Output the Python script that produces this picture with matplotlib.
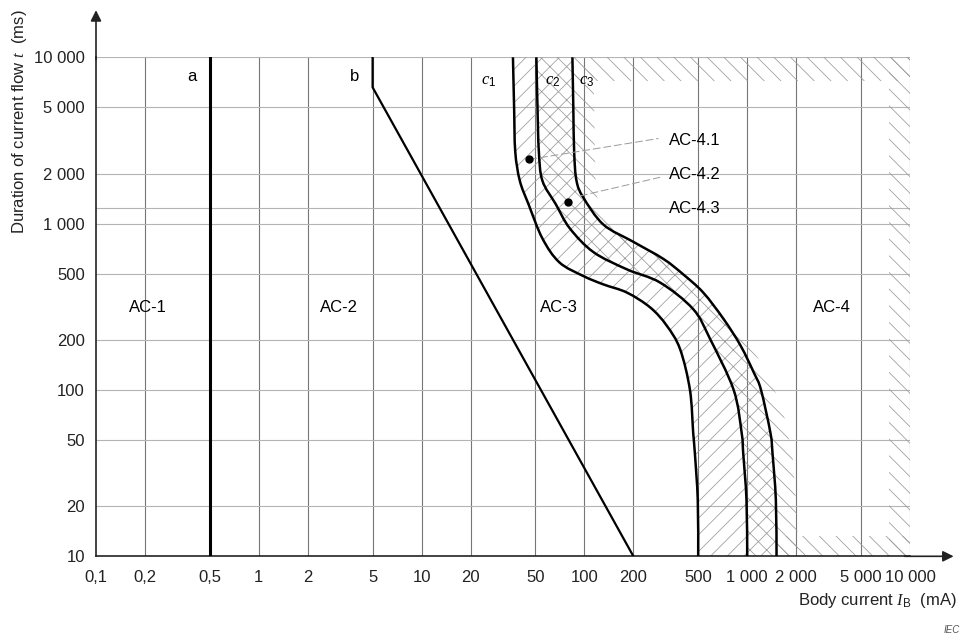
import numpy as np
import matplotlib.pyplot as plt
from matplotlib.path import Path
from matplotlib.patches import PathPatch

plt.rcParams['font.family'] = ['Liberation Sans', 'DejaVu Sans']
plt.rcParams['mathtext.fontset'] = 'custom'
plt.rcParams['mathtext.rm'] = 'Liberation Sans'
plt.rcParams['mathtext.it'] = 'Liberation Serif:italic'
plt.rcParams['hatch.linewidth'] = 0.55

# axis ticks
x_ticks = [0.1, 0.2, 0.5, 1, 2, 5, 10, 20, 50, 100, 200, 500, 1000, 2000, 5000, 10000]
x_labels = ['0,1', '0,2', '0,5', '1', '2', '5', '10', '20', '50', '100', '200',
            '500', '1 000', '2 000', '5 000', '10 000']
y_ticks = [10, 20, 50, 100, 200, 500, 1000, 2000, 5000, 10000]
y_labels = ['10', '20', '50', '100', '200', '500', '1 000', '2 000', '5 000', '10 000']
extra_y = 1250

# boundary curves (current mA, time ms)
a_current = [0.5, 0.5]
a_time = [10, 10000]
b_current = [200, 5, 5]
b_time = [10, 6600, 10000]

c1_current = [36.4, 37, 37.6, 40.1, 45.4, 55.2, 70.2, 98.6, 131, 182.5, 254, 320, 387, 445, 466, 477, 497, 500]
c1_time = [10000, 5000, 2718, 1813, 1306, 815, 585, 484, 431, 385, 313, 244, 176, 100, 55, 41.7, 21.8, 10]

c2_current = [50.7, 51.5, 52.5, 55.2, 66.8, 81.2, 113.7, 182.5, 292, 466, 591, 826, 925, 945, 990, 1000]
c2_time = [10000, 5000, 2718, 1813, 1306, 939, 674, 531, 442, 306, 203, 100, 55, 41.7, 21.8, 10]

c3_current = [84.4, 85.5, 86.5, 89.4, 98.6, 131, 200, 306, 405, 537, 716, 910, 1103, 1216, 1390, 1430, 1500, 1514]
c3_time = [10000, 5000, 2718, 1813, 1433, 986, 777, 613, 495, 385, 267, 185, 126, 100, 55, 41.7, 21.8, 10]

# AC-4 border strip limits
ac4_top = 7200
ac4_right = 7400
ac4_bottom = 13.2

# marked points
dot_current = [46, 79]
dot_time = [2433, 1355]


def bez(xs, ys):
    # smooth path through the read points (Catmull-Rom in log space)
    p = np.column_stack([np.log10(xs), np.log10(ys)])
    n = len(p)
    verts = [p[0]]
    codes = [Path.MOVETO]
    for i in range(n - 1):
        p0 = p[i - 1] if i > 0 else p[i]
        p3 = p[i + 2] if i + 2 < n else p[i + 1]
        verts += [p[i] + (p[i + 1] - p0) / 6, p[i + 1] - (p3 - p[i]) / 6, p[i + 1]]
        codes += [Path.CURVE4] * 3
    return 10 ** np.array(verts), codes


def region(*curves):
    verts, codes = [], []
    for k, (xs, ys) in enumerate(curves):
        v, c = bez(xs, ys)
        if k > 0:
            c[0] = Path.LINETO
        verts.append(v)
        codes += c
    verts = np.vstack(verts + [verts[0][:1]])
    codes.append(Path.CLOSEPOLY)
    return Path(verts, codes)


fig = plt.figure(figsize=(9.63, 6.37), dpi=100)
ax = fig.add_axes([96 / 963, 1 - 556.3 / 637, (910 - 96) / 963, (556.3 - 57.3) / 637])
ax.set_xscale('log')
ax.set_yscale('log')
ax.set_xlim(0.1, 10000)
ax.set_ylim(10, 10000)

# grid
for v in x_ticks[1:]:
    ax.axvline(v, color='#767676', lw=0.8, zorder=1)
for v in y_ticks[1:] + [extra_y]:
    ax.axhline(v, color='#b4b4b4', lw=0.8, zorder=1)

# hatched zones
hc = '#9a9a9a'
c2r = (c2_current[::-1], c2_time[::-1])
c3r = (c3_current[::-1], c3_time[::-1])
c3_out = (np.array(c3_current) * 1.35, np.array(c3_time) / 1.3)
zones = [
    (region((c1_current, c1_time), c2r), '//'),
    (region((c2_current, c2_time), c3r), 'xx'),
    (region((c3_current, c3_time), (c3_out[0][::-1], c3_out[1][::-1])), '\\\\'),
]
for path, h in zones:
    ax.add_patch(PathPatch(path, facecolor='none', edgecolor=hc, hatch=h, lw=0, zorder=2))
ax.fill_between([c3_current[0], 10000], ac4_top, 10000,
                facecolor='none', edgecolor=hc, hatch='\\\\', lw=0, zorder=2)
ax.fill_betweenx([10, 10000], ac4_right, 10000,
                 facecolor='none', edgecolor=hc, hatch='\\\\', lw=0, zorder=2)
ax.fill_between([c3_current[-1], 10000], 10, ac4_bottom,
                facecolor='none', edgecolor=hc, hatch='\\\\', lw=0, zorder=2)

# curves
ax.plot(a_current, a_time, color='black', lw=2.2, zorder=3)
ax.plot(b_current, b_time, color='black', lw=1.6, zorder=3)
for xs, ys in [(c1_current, c1_time), (c2_current, c2_time), (c3_current, c3_time)]:
    v, c = bez(xs, ys)
    ax.add_patch(PathPatch(Path(v, c), facecolor='none', edgecolor='black', lw=1.8, zorder=3))

ax.plot(dot_current, dot_time, 'o', color='black', ms=5, zorder=4)
ax.plot([46, 285], [2433, 3250], color='#9a9a9a', lw=0.7, ls=(0, (8, 3)), zorder=3)
ax.plot([94, 292], [1468, 1900], color='#9a9a9a', lw=0.7, ls=(0, (8, 3)), zorder=3)

# labels
fs = 12
ax.text(0.387, 7700, 'a', fontsize=fs, ha='center', va='center')
ax.text(3.89, 7700, 'b', fontsize=fs, ha='center', va='center')
ax.text(25.8, 7150, r'$c_1$', fontsize=fs, ha='center', va='center')
ax.text(63.7, 7150, r'$c_2$', fontsize=fs, ha='center', va='center')
ax.text(103, 7150, r'$c_3$', fontsize=fs, ha='center', va='center')
for name, xc in [('AC-1', 0.209), ('AC-2', 3.12), ('AC-3', 70.2), ('AC-4', 3300)]:
    ax.text(xc, 313, name, fontsize=fs, ha='center', va='center')
for name, yc in [('AC-4.1', 3177), ('AC-4.2', 1964), ('AC-4.3', 1235)]:
    ax.text(331, yc, name, fontsize=fs, ha='left', va='center', zorder=5)

# axes
ax.set_xticks(x_ticks, x_labels)
ax.set_yticks(y_ticks, y_labels)
ax.minorticks_off()
ax.tick_params(axis='x', length=0, pad=10, labelsize=fs, labelcolor='#222222')
ax.tick_params(axis='y', length=0, pad=8, labelsize=fs, labelcolor='#222222')
for s in ('top', 'right'):
    ax.spines[s].set_visible(False)
for s in ('left', 'bottom'):
    ax.spines[s].set_color('#222222')
    ax.spines[s].set_linewidth(1.2)
ax.annotate('', xy=(0, 1.1), xytext=(0, 0.99), xycoords='axes fraction',
            arrowprops=dict(arrowstyle='-|>', color='#222222', lw=1.2, mutation_scale=16),
            annotation_clip=False)
ax.annotate('', xy=(1.057, 0), xytext=(0.99, 0), xycoords='axes fraction',
            arrowprops=dict(arrowstyle='-|>', color='#222222', lw=1.2, mutation_scale=16),
            annotation_clip=False)

fig.text(20 / 963, 1 - 122 / 637, 'Duration of current flow $t$  (ms)', rotation=90,
         ha='center', va='center', fontsize=fs, color='#222222')
fig.text(957 / 963, 1 - 600 / 637, r'Body current $I_\mathrm{B}$  (mA)', ha='right',
         va='center', fontsize=fs, color='#222222')
fig.text(960 / 963, 1 - 630 / 637, 'IEC', ha='right', va='center', fontsize=7,
         style='italic', color='#555555')

fig.savefig('out.png', dpi=100)
